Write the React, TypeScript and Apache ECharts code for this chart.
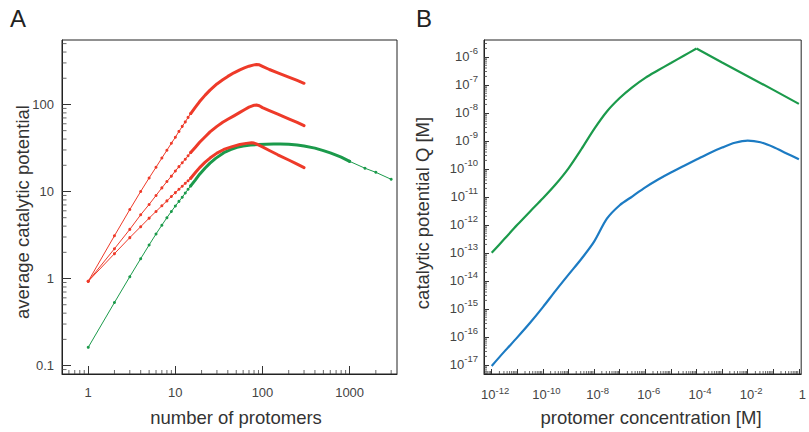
import React, { useEffect, useRef } from "react";
import * as echarts from "echarts";

// ---------- Panel A: average catalytic potential vs number of protomers ----------
const redUpperA: [number, number][] = [
  [1, 0.93], [2, 3.1], [3, 6.2], [4, 10.0], [5, 14.3], [6, 19.0], [7, 24.2], [8, 29.8],
  [9, 35.8], [10, 42], [11, 49], [12, 56], [13, 63], [14, 71], [15, 78.5], [17, 93],
  [19, 108], [22, 128], [25, 146], [30, 172], [35, 192], [40, 210], [47, 231], [55, 250],
  [62, 263], [70, 275], [78, 283], [85, 288], [92, 285], [100, 274], [120, 252], [150, 231],
  [200, 206], [250, 189], [300, 175],
];
const redMiddleA: [number, number][] = [
  [1, 0.93], [2, 2.2], [3, 3.67], [4, 5.4], [5, 7.1], [6, 9.0], [7, 11.0], [8, 13.0],
  [9, 15.0], [10, 17.2], [11, 19.3], [12, 21.4], [13, 23.5], [14, 25.7], [15, 28],
  [17, 32.3], [19, 36.8], [22, 42.6], [25, 48.4], [30, 56], [35, 62.5], [40, 67.5], [47, 74],
  [55, 81], [62, 87], [70, 93], [78, 97], [85, 98.5], [92, 96.5], [100, 92], [120, 85],
  [150, 77.3], [200, 68.4], [250, 62.3], [300, 57],
];
const redLowerA: [number, number][] = [
  [1, 0.93], [2, 1.93], [3, 2.95], [4, 3.94], [5, 4.94], [6, 5.9], [7, 6.85], [8, 7.8],
  [9, 8.75], [10, 9.7], [11, 10.6], [12, 11.5], [13, 12.4], [14, 13.3], [15, 14.2],
  [17, 16.5], [19, 18.8], [22, 21.7], [25, 24.2], [30, 27.6], [36, 30.4], [45, 32.8],
  [55, 34.6], [65, 35.7], [75, 36.2], [80, 36.0], [85, 35.2], [100, 32.5], [120, 29.6],
  [150, 26.4], [200, 23.0], [250, 20.6], [300, 18.8],
];
const greenA: [number, number][] = [
  [1, 0.162], [2, 0.53], [3, 1.05], [4, 1.69], [5, 2.43], [6, 3.25], [7, 4.1], [8, 5.0],
  [9, 5.9], [10, 6.8], [11, 7.7], [12, 8.6], [13, 9.6], [14, 10.6], [15, 11.6], [17, 13.6],
  [19, 15.8], [22, 18.6], [25, 21.2], [29, 24], [36, 27.9], [43, 30.2], [51, 32.1],
  [60, 33.2], [73, 34.2], [90, 34.7], [110, 35.0], [134, 35.2], [160, 35.2], [200, 34.9],
  [250, 34.2], [300, 33.3], [400, 31.5], [500, 29.5], [600, 27.8], [700, 26.2], [800, 24.8],
  [1000, 22.2], [1500, 18.5], [2000, 16.6], [3000, 13.8],
];

// ---------- Panel B: catalytic potential Q vs protomer concentration (log10 values) ----------
const concExpGreenB = [-12, -11.5, -11, -10.5, -10, -9.5, -9, -8.5, -8, -7.5, -7, -6.5, -6, -5.5, -5, -4.5, -4];
const qExpGreenB = [-13.0, -12.5, -12.0, -11.52, -11.05, -10.55, -9.98, -9.3, -8.58, -7.95, -7.47, -7.08, -6.75, -6.48, -6.22, -5.96, -5.7];
const concExpGreenFallB = [-4, -3, -2, -1, 0];
const qExpGreenFallB = [-5.7, -6.2, -6.69, -7.18, -7.68];
const concExpBlueB = [-12, -11.5, -11, -10.5, -10, -9.5, -9, -8.5, -8, -7.5, -7, -6.5, -6, -5.5, -5, -4.5, -4, -3.5, -3, -2.5, -2, -1.5, -1, -0.5, 0];
const qExpBlueB = [-17.04, -16.52, -16.02, -15.5, -14.94, -14.35, -13.78, -13.22, -12.6, -11.78, -11.3, -10.98, -10.66, -10.38, -10.13, -9.9, -9.67, -9.44, -9.24, -9.07, -8.99, -9.05, -9.22, -9.44, -9.66];

// ---------- tick values ----------
const xMajorA = [1, 10, 100, 1000];
const yMajorA = [0.1, 1, 10, 100];
const xMajorB = [1e-12, 1e-11, 1e-10, 1e-9, 1e-8, 1e-7, 1e-6, 1e-5, 1e-4, 1e-3, 1e-2, 1e-1, 1];
const xLabelB = [1e-12, 1e-10, 1e-8, 1e-6, 1e-4, 1e-2, 1];
const yMajorB = [1e-17, 1e-16, 1e-15, 1e-14, 1e-13, 1e-12, 1e-11, 1e-10, 1e-9, 1e-8, 1e-7, 1e-6];

function minorTicks(lo: number, hi: number): number[] {
  const out: number[] = [];
  for (let e = -19; e <= 4; e++) {
    for (let m = 2; m <= 9; m++) {
      const v = Number((m * Math.pow(10, e)).toPrecision(6));
      if (v > lo * 1.0001 && v < hi * 0.9999) out.push(v);
    }
  }
  return out;
}

const toPairs = (xs: number[], ys: number[]) => xs.map((e, i) => [Math.pow(10, e), Math.pow(10, ys[i])]);

const FONT = "Liberation Sans, Arial, Helvetica, sans-serif";
const AXIS = "#222";
const TICK = "#333";
const MINOR = "#444";
const LABEL = "#444";
const RED = "#EE3A29";
const GREEN = "#1B9A4B";
const BLUE = "#1C7BC3";

const A_X = { min: 0.5, max: 3500 };
const A_Y = { min: 0.08, max: 550 };
const B_X = { min: 5e-13, max: 1.23 };
const B_Y = { min: 4.7e-18, max: 4e-6 };

function majorAxis(grid: number, range: any, ticks: number[], labels: number[], pos: string, tickLen: number, label: any) {
  return {
    type: "log",
    gridIndex: grid,
    position: pos,
    min: range.min,
    max: range.max,
    axisLine: { show: true, lineStyle: { color: AXIS, width: 1 } },
    axisTick: { show: true, inside: true, length: tickLen, customValues: ticks, lineStyle: { color: TICK, width: 1 } },
    axisLabel: { show: true, customValues: labels, fontFamily: FONT, color: LABEL, ...label },
    splitLine: { show: false },
    minorTick: { show: false },
  };
}

// minor ticks: thin rect symbols placed through the axes' own scales, shifted inside the plot
function minorTickSeries(axisIdx: number, values: number[], dir: "x" | "y", anchor: number, len: number) {
  return {
    type: "scatter",
    xAxisIndex: axisIdx,
    yAxisIndex: axisIdx,
    clip: false,
    z: 5,
    symbol: "rect",
    symbolSize: dir === "x" ? [1, len] : [len, 1],
    symbolOffset: dir === "x" ? [0, -len / 2] : [len / 2, 0],
    itemStyle: { color: MINOR },
    data: values.map((v) => (dir === "x" ? [v, anchor] : [anchor, v])),
  };
}

const supFmt = (v: number) => {
  const e = Math.round(Math.log10(v));
  return e === 0 ? "{b|1}" : `{b|10}{s|${e}}`;
};

export default function App() {
  const ref = useRef<HTMLDivElement>(null);
  useEffect(() => {
    if (!ref.current) return;
    const chart = echarts.init(ref.current, null, { renderer: "svg" });

    const dotLine = (data: any[], color: string, xi: number) => ({
      type: "line", xAxisIndex: xi, yAxisIndex: xi, data,
      symbol: "circle", symbolSize: 3, showSymbol: true,
      itemStyle: { color }, lineStyle: { color, width: 1 }, silent: true, z: 3,
    });
    const thickLine = (data: any[], color: string, xi: number, w: number) => ({
      type: "line", xAxisIndex: xi, yAxisIndex: xi, data,
      symbol: "none", showSymbol: false,
      lineStyle: { color, width: w, cap: "round", join: "round" }, silent: true, z: 3,
    });
    const low = (d: [number, number][]) => d.filter((p) => p[0] <= 15);
    const high = (d: [number, number][], hi = 1e9) => d.filter((p) => p[0] >= 15 && p[0] <= hi);

    const richX = {
      b: { fontSize: 13, lineHeight: 14, color: LABEL, fontFamily: FONT },
      s: { fontSize: 9.5, lineHeight: 10, padding: [0, 0, 8, 0], color: LABEL, fontFamily: FONT },
    };
    const richY = {
      b: { fontSize: 13, lineHeight: 14, color: LABEL, fontFamily: FONT },
      s: { fontSize: 9.5, lineHeight: 10, padding: [0, 0, 12, 0], color: LABEL, fontFamily: FONT },
    };

    const option: any = {
      animation: false,
      backgroundColor: "#fff",
      textStyle: { fontFamily: FONT },
      grid: [
        { left: 62, top: 40, width: 335, height: 334, show: true, borderColor: AXIS, borderWidth: 1 },
        { left: 484, top: 40, width: 326, height: 334, show: true, borderColor: AXIS, borderWidth: 1 },
      ],
      xAxis: [
        majorAxis(0, A_X, xMajorA, xMajorA, "bottom", 8, { fontSize: 13, margin: 12, formatter: (v: number) => String(v) }),
        majorAxis(1, B_X, xMajorB, xLabelB, "bottom", 5, { margin: 13, padding: [0, 0, 0, 7], formatter: supFmt, rich: richX }),
      ],
      yAxis: [
        majorAxis(0, A_Y, yMajorA, yMajorA, "left", 9, { fontSize: 13, margin: 8, formatter: (v: number) => String(v) }),
        majorAxis(1, B_Y, yMajorB, yMajorB, "left", 5, { margin: 6, formatter: supFmt, rich: richY }),
      ],
      series: [
        dotLine(low(greenA), GREEN, 0),
        thickLine(high(greenA, 1000), GREEN, 0, 3),
        dotLine(greenA.filter((p) => p[0] >= 1000), GREEN, 0),
        dotLine(low(redLowerA), RED, 0),
        thickLine(high(redLowerA), RED, 0, 3),
        dotLine(low(redMiddleA), RED, 0),
        thickLine(high(redMiddleA), RED, 0, 3),
        dotLine(low(redUpperA), RED, 0),
        thickLine(high(redUpperA), RED, 0, 3),
        {
          type: "line", xAxisIndex: 1, yAxisIndex: 1, data: toPairs(concExpGreenB, qExpGreenB),
          symbol: "none", smooth: 0.3, lineStyle: { color: GREEN, width: 2.2 }, silent: true, z: 3,
        },
        {
          type: "line", xAxisIndex: 1, yAxisIndex: 1, data: toPairs(concExpGreenFallB, qExpGreenFallB),
          symbol: "none", smooth: false, lineStyle: { color: GREEN, width: 2.2 }, silent: true, z: 3,
        },
        {
          type: "line", xAxisIndex: 1, yAxisIndex: 1, data: toPairs(concExpBlueB, qExpBlueB),
          symbol: "none", smooth: 0.3, lineStyle: { color: BLUE, width: 2.2 }, silent: true, z: 3,
        },
        minorTickSeries(0, minorTicks(A_X.min, A_X.max), "x", A_Y.min, 4),
        minorTickSeries(0, minorTicks(A_Y.min, A_Y.max), "y", A_X.min, 4.5),
        minorTickSeries(1, minorTicks(B_X.min, B_X.max), "x", B_Y.min, 3),
        minorTickSeries(1, minorTicks(B_Y.min, B_Y.max), "y", B_X.min, 3),
      ],
      graphic: [
        { type: "text", left: 10, top: 6, style: { text: "A", fontSize: 24, fontFamily: FONT, fill: "#222" } },
        { type: "text", left: 416, top: 6, style: { text: "B", fontSize: 24, fontFamily: FONT, fill: "#222" } },
        { type: "text", x: 236, y: 417, style: { text: "number of protomers", fontSize: 18.5, fontFamily: FONT, fill: "#333", align: "center", verticalAlign: "middle" } },
        { type: "text", x: 651, y: 417, style: { text: "protomer concentration [M]", fontSize: 18.5, fontFamily: FONT, fill: "#333", align: "center", verticalAlign: "middle" } },
        { type: "text", x: 22, y: 212, rotation: Math.PI / 2, style: { text: "average catalytic potential", fontSize: 18.5, fontFamily: FONT, fill: "#333", align: "center", verticalAlign: "middle" } },
        { type: "text", x: 422, y: 213, rotation: Math.PI / 2, style: { text: "catalytic potential Q [M]", fontSize: 18.5, fontFamily: FONT, fill: "#333", align: "center", verticalAlign: "middle" } },
      ],
    };
    chart.setOption(option);
    return () => chart.dispose();
  }, []);
  return <div ref={ref} style={{ position: "fixed", left: 0, top: 0, width: 809, height: 432, background: "#fff" }} />;
}
